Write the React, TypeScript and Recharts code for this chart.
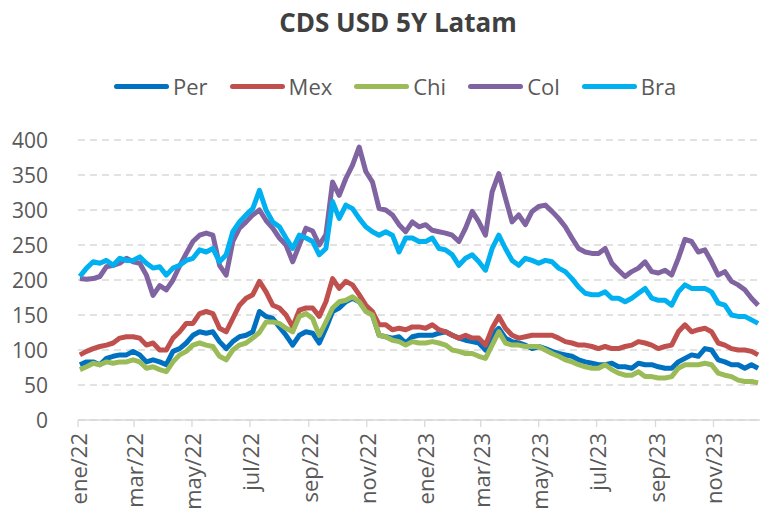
import { LineChart, Line, XAxis, YAxis, CartesianGrid } from "recharts";

// weekly samples starting on the first Monday of 2022
const startDate = "2022-01-03";

const per = [
  79, 83, 83, 79, 88, 91, 93, 93, 98, 93, 83, 86, 83, 79, 98, 102, 110,
  121, 126, 124, 126, 112, 102, 112, 119, 121, 126, 155, 148, 145, 133, 121, 107, 121, 126,
  124, 110, 131, 155, 160, 169, 174, 169, 157, 150, 121, 119, 117, 119, 110, 119, 121,
  121, 121, 124, 126, 121, 117, 114, 112, 110, 100, 121, 131, 117, 112, 110, 107, 102,
  105, 102, 98, 95, 93, 91, 86, 83, 81, 79, 79, 81, 76, 76, 74, 81, 79,
  79, 76, 74, 74, 83, 88, 93, 91, 102, 100, 86, 83, 79, 79, 74, 79, 74,
];
const mex = [
  93, 98, 102, 105, 107, 110, 117, 119, 119, 117, 107, 110, 100, 100, 117, 126, 138,
  138, 152, 155, 152, 131, 126, 145, 164, 174, 179, 198, 183, 164, 160, 150, 133, 157, 160,
  160, 148, 169, 202, 188, 198, 193, 179, 164, 155, 136, 136, 129, 131, 129, 133, 133,
  131, 136, 129, 126, 121, 117, 121, 117, 117, 107, 131, 148, 131, 121, 117, 119, 121,
  121, 121, 121, 117, 112, 110, 107, 107, 105, 102, 105, 102, 102, 105, 107, 112, 110,
  107, 102, 105, 107, 126, 136, 126, 129, 131, 126, 110, 107, 102, 100, 100, 98, 93,
];
const chi = [
  72, 76, 81, 79, 83, 81, 83, 83, 86, 83, 74, 76, 72, 69, 83, 93, 98,
  107, 110, 107, 105, 91, 86, 100, 107, 110, 117, 125, 140, 140, 138, 131, 126, 148, 152,
  145, 121, 140, 160, 169, 171, 176, 169, 155, 150, 121, 119, 114, 112, 107, 112, 110,
  110, 112, 110, 107, 100, 98, 95, 95, 91, 88, 107, 126, 110, 107, 107, 105, 105,
  105, 100, 95, 91, 86, 83, 79, 76, 74, 74, 79, 72, 67, 64, 64, 69, 62,
  62, 60, 60, 62, 74, 79, 79, 79, 81, 79, 67, 64, 62, 57, 55, 55, 53,
];
const col = [
  202, 201, 202, 205, 219, 221, 224, 231, 226, 224, 207, 178, 192, 186, 200, 220, 238,
  255, 264, 267, 264, 221, 207, 255, 274, 283, 293, 300, 285, 274, 260, 250, 226, 250, 274,
  270, 250, 265, 340, 321, 345, 364, 390, 355, 340, 302, 300, 293, 279, 269, 283, 276,
  279, 271, 269, 267, 264, 255, 274, 298, 283, 264, 326, 352, 317, 283, 293, 279, 298,
  305, 307, 298, 288, 276, 260, 245, 240, 238, 238, 245, 224, 214, 205, 212, 217, 226,
  212, 210, 214, 207, 231, 258, 255, 240, 243, 226, 207, 212, 198, 193, 186, 174, 164,
];
const bra = [
  205, 217, 226, 224, 228, 221, 231, 228, 228, 233, 224, 217, 219, 207, 217, 221, 228,
  231, 243, 240, 245, 226, 236, 269, 283, 293, 302, 328, 300, 283, 276, 260, 245, 264, 260,
  255, 236, 245, 312, 288, 307, 302, 288, 276, 269, 264, 269, 264, 240, 260, 260, 255,
  255, 260, 245, 243, 236, 221, 231, 236, 226, 214, 245, 264, 245, 228, 221, 231, 228,
  224, 228, 226, 217, 212, 202, 190, 181, 179, 179, 183, 174, 174, 169, 174, 181, 188,
  174, 171, 171, 164, 183, 193, 188, 188, 188, 183, 167, 164, 150, 148, 148, 143, 138,
];

const yTicks = [0, 50, 100, 150, 200, 250, 300, 350, 400];
const xTickDates = [
  "2022-01-01", "2022-03-01", "2022-05-01", "2022-07-01", "2022-09-01", "2022-11-01",
  "2023-01-01", "2023-03-01", "2023-05-01", "2023-07-01", "2023-09-01", "2023-11-01",
];
const monthNames = ["ene", "feb", "mar", "abr", "may", "jun", "jul", "ago", "sep", "oct", "nov", "dic"];
const endDate = "2023-12-20";

const series = [
  { key: "Per", color: "#0070c0", values: per },
  { key: "Mex", color: "#c0504d", values: mex },
  { key: "Chi", color: "#9bbb59", values: chi },
  { key: "Col", color: "#8064a2", values: col },
  { key: "Bra", color: "#00b0f0", values: bra },
];

const DAY = 86400000;
const ORIGIN = Date.parse("2022-01-01");
const dayOf = (iso: string) => Math.round((Date.parse(iso) - ORIGIN) / DAY);

const data = per.map((_, i) => {
  const row: Record<string, number> = { t: dayOf(startDate) + 7 * i };
  series.forEach((s) => (row[s.key] = s.values[i]));
  return row;
});

const dayLabel = (d: number) => {
  const dt = new Date(ORIGIN + d * DAY);
  return `${monthNames[dt.getUTCMonth()]}/${String(dt.getUTCFullYear()).slice(2)}`;
};

const FONT = "'Open Sans', sans-serif";
const TEXT = "#595959";

function XTick({ x, y, payload }: any) {
  return (
    <text
      transform={`translate(${x},${y + 4}) rotate(-90)`}
      textAnchor="end"
      dominantBaseline="central"
      fill={TEXT}
      fontSize={22}
      fontFamily={FONT}
    >
      {dayLabel(payload.value)}
    </text>
  );
}

function YTick({ x, y, payload }: any) {
  return (
    <text x={x - 30} y={y} textAnchor="end" dominantBaseline="central" fill={TEXT} fontSize={21} fontFamily={FONT}>
      {payload.value}
    </text>
  );
}

export default function App() {
  return (
    <div style={{ position: "absolute", left: 0, top: 0, width: 760, height: 517, background: "#fff", fontFamily: FONT }}>
      <div
        style={{
          position: "absolute",
          left: 36,
          width: 724,
          top: 4,
          textAlign: "center",
          fontWeight: 700,
          fontSize: 26,
          color: "#404040",
        }}
      >
        CDS USD 5Y Latam
      </div>
      <div style={{ position: "absolute", left: 114, top: 72, display: "flex", alignItems: "center" }}>
        {series.map((s) => (
          <div key={s.key} style={{ display: "flex", alignItems: "center", marginRight: 22 }}>
            <span style={{ display: "inline-block", width: 55, height: 5, borderRadius: 3, background: s.color, marginRight: 4 }} />
            <span style={{ fontSize: 22, color: TEXT, lineHeight: "28px" }}>{s.key}</span>
          </div>
        ))}
      </div>
      <LineChart width={760} height={517} data={data} margin={{ top: 140, right: 0, left: 0, bottom: 0 }}>
        <CartesianGrid vertical={false} stroke="#d9d9d9" strokeWidth={1.3} strokeDasharray="7 5" />
        <XAxis
          type="number"
          dataKey="t"
          domain={[0, dayOf(endDate)]}
          ticks={xTickDates.map(dayOf)}
          interval={0}
          height={97}
          stroke="#d9d9d9"
          strokeWidth={1.3}
          tickSize={7}
          tickMargin={2}
          tick={<XTick />}
          allowDataOverflow
        />
        <YAxis
          domain={[0, 400]}
          ticks={yTicks}
          interval={0}
          width={78}
          axisLine={false}
          tickLine={false}
          tickSize={0}
          tickMargin={0}
          tick={<YTick />}
        />
        {series.map((s) => (
          <Line
            key={s.key}
            type="linear"
            dataKey={s.key}
            stroke={s.color}
            strokeWidth={5}
            strokeLinejoin="round"
            dot={false}
            isAnimationActive={false}
          />
        ))}
      </LineChart>
    </div>
  );
}
